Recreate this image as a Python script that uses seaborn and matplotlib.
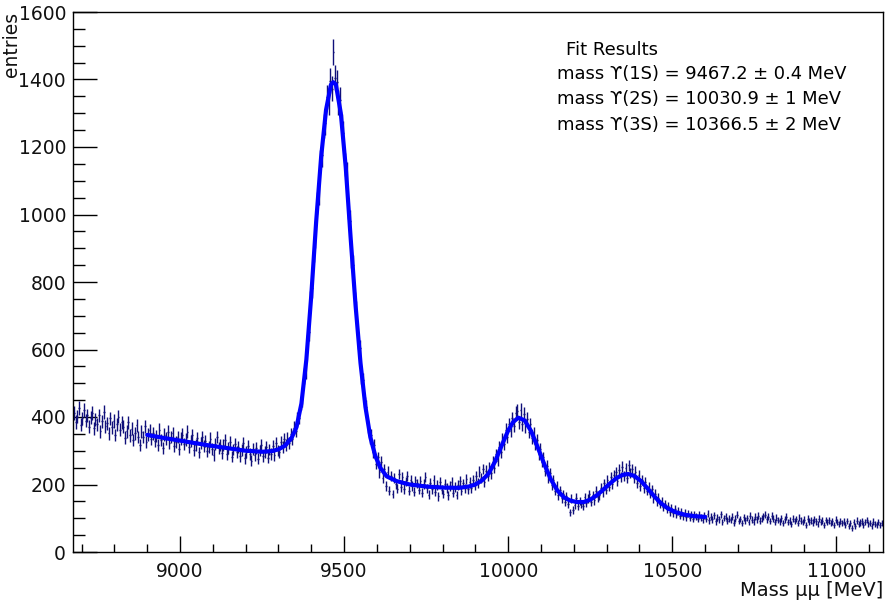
import numpy as np
import pandas as pd
import matplotlib
matplotlib.use("Agg")
import matplotlib.pyplot as plt
import seaborn as sns
from matplotlib.ticker import MultipleLocator

# ---------------- data ----------------
bin_width = 5
bin_start = 8677.5  # centre of first bin (MeV); one row = 50 MeV
counts = [
    412, 385, 401, 428, 377, 396, 420, 389, 405, 371,
    398, 411, 366, 392, 379, 405, 358, 387, 414, 372,
    381, 352, 396, 369, 388, 347, 378, 401, 362, 384,
    371, 339, 358, 384, 346, 365, 331, 352, 376, 341,
    318, 356, 340, 372, 327, 349, 361, 334, 352, 329,
    344, 318, 362, 331, 309, 348, 336, 357, 322, 340,
    352, 314, 327, 341, 305, 336, 348, 319, 333, 357,
    311, 329, 346, 302, 318, 337, 295, 323, 340, 314,
    329, 298, 312, 336, 305, 287, 321, 340, 309, 316,
    294, 318, 331, 289, 309, 326, 282, 304, 319, 297,
    312, 285, 303, 322, 278, 296, 314, 290, 271, 305,
    288, 309, 276, 301, 318, 283, 297, 312, 280, 304,
    291, 315, 288, 322, 301, 296, 327, 310, 334, 318,
    338, 324, 349, 336, 368, 359, 394, 398, 441, 452,
    521, 536, 618, 652, 747, 781, 889, 931, 1034, 1062,
    1158, 1176, 1262, 1271, 1348, 1332, 1396, 1372, 1482, 1405,
    1392, 1331, 1340, 1262, 1241, 1149, 1122, 1018, 982, 871,
    851, 742, 718, 627, 603, 521, 509, 438, 429, 371,
    338, 347, 296, 318, 262, 281, 236, 268, 219, 245,
    196, 238, 181, 226, 172, 219, 201, 188, 230, 193,
    221, 187, 209, 226, 182, 214, 196, 178, 212, 203,
    184, 210, 176, 201, 222, 189, 170, 205, 186, 214,
    179, 198, 165, 207, 184, 172, 201, 190, 168, 196,
    207, 176, 193, 169, 198, 211, 182, 203, 189, 215,
    186, 208, 190, 213, 197, 224, 205, 238, 219, 246,
    208, 241, 226, 252, 233, 268, 249, 289, 271, 312,
    296, 334, 321, 362, 341, 378, 359, 396, 374, 411,
    418, 384, 421, 379, 408, 372, 395, 356, 379, 338,
    352, 321, 331, 289, 305, 268, 281, 241, 256, 219,
    234, 198, 214, 181, 196, 168, 183, 159, 171, 148,
    166, 143, 118, 158, 124, 139, 161, 135, 152, 141,
    137, 162, 144, 158, 171, 147, 169, 153, 181, 162,
    168, 191, 177, 203, 185, 213, 194, 221, 202, 229,
    236, 209, 244, 221, 253, 226, 248, 218, 257, 235,
    246, 219, 238, 205, 227, 196, 214, 189, 207, 181,
    194, 172, 186, 159, 173, 150, 161, 141, 152, 134,
    142, 126, 137, 119, 131, 115, 127, 110, 122, 108,
    119, 106, 117, 103, 114, 101, 112, 99, 110, 104,
    98, 111, 102, 95, 108, 99, 113, 94, 104, 97,
    109, 91, 103, 97, 112, 88, 101, 106, 93, 99,
    95, 104, 87, 99, 110, 92, 98, 86, 103, 94,
    101, 89, 107, 96, 90, 104, 97, 108, 93, 100,
    106, 111, 97, 104, 92, 108, 99, 89, 102, 95,
    91, 100, 86, 97, 105, 89, 94, 83, 99, 92,
    98, 85, 102, 93, 88, 96, 81, 99, 90, 94,
    87, 97, 91, 84, 99, 88, 93, 80, 95, 89,
    94, 85, 91, 79, 96, 88, 83, 92, 86, 90,
    81, 92, 76, 85, 72, 89, 78, 93, 84, 87,
    91, 80, 88, 95, 82, 86, 77, 90, 84, 79,
    88, 81, 85,
]

fit_mass = [8900, 8950, 9000, 9050, 9100, 9150, 9200, 9250, 9280, 9300,
            9320, 9340, 9355, 9370, 9385, 9400, 9415, 9430, 9445, 9460,
            9467, 9475, 9490, 9505, 9520, 9535, 9550, 9565, 9580, 9595,
            9610, 9630, 9660, 9700, 9750, 9800, 9850, 9880, 9900, 9920,
            9940, 9960, 9980, 10000, 10015, 10031, 10050, 10070, 10090, 10110,
            10130, 10150, 10170, 10190, 10210, 10230, 10250, 10270, 10290, 10310,
            10330, 10350, 10366, 10385, 10405, 10425, 10445, 10465, 10485, 10510,
            10540, 10570, 10600]
fit_value = [347, 338, 330, 322, 314, 307, 300, 297, 299, 304,
             315, 338, 370, 440, 570, 760, 980, 1170, 1310, 1385,
             1392, 1385, 1300, 1140, 930, 730, 560, 430, 340, 285,
             250, 224, 210, 200, 194, 191, 190, 194, 200, 212,
             232, 268, 315, 360, 385, 398, 390, 358, 310, 260,
             215, 182, 162, 152, 148, 148, 155, 168, 185, 203,
             219, 229, 231, 225, 210, 188, 165, 145, 130, 118,
             110, 106, 104]

legend_title = "Fit Results"
legend_lines = [
    "mass \u03d2(1S) = 9467.2 \u00b1 0.4 MeV",
    "mass \u03d2(2S) = 10030.9 \u00b1 1 MeV",
    "mass \u03d2(3S) = 10366.5 \u00b1 2 MeV",
]
x_label = "Mass \u03bc\u03bc [MeV]"
y_label = "entries"

# ---------------- frames ----------------
centers = bin_start + bin_width * np.arange(len(counts))
hist = pd.DataFrame({"mass": centers, "entries": counts})
hist["err"] = np.sqrt(hist["entries"])
fit = pd.DataFrame({"mass": fit_mass, "entries": fit_value})

# ---------------- style ----------------
sns.set_theme(style="ticks")
plt.rcParams["font.family"] = ["DejaVu Sans"]

fig = plt.figure(figsize=(8.88, 6.05), dpi=100)
ax = fig.add_axes([73 / 888, 53 / 605, 810 / 888, 540 / 605])

ax.errorbar(hist["mass"], hist["entries"], yerr=hist["err"], xerr=bin_width / 2,
            fmt="none", ecolor="#10107a", elinewidth=1.0, zorder=2)
sns.lineplot(data=fit, x="mass", y="entries", color="#0000ff", lw=3,
             ax=ax, zorder=3, sort=False)

ax.set_xlim(8674, 11142)
ax.set_ylim(0, 1600)
ax.xaxis.set_major_locator(MultipleLocator(500))
ax.xaxis.set_minor_locator(MultipleLocator(100))
ax.yaxis.set_major_locator(MultipleLocator(200))
ax.yaxis.set_minor_locator(MultipleLocator(50))

ax.tick_params(axis="both", which="both", direction="in", color="black",
               width=1, labelsize=13.5, labelcolor="#111111")
ax.tick_params(axis="y", which="major", length=17.3, pad=5)
ax.tick_params(axis="y", which="minor", length=8.7)
ax.tick_params(axis="x", which="major", length=11.5, pad=7)
ax.tick_params(axis="x", which="minor", length=5.8)
for s in ax.spines.values():
    s.set_color("black")
    s.set_linewidth(1)

ax.set_xlabel("")
ax.set_ylabel("")
fig.text(883 / 888, 1 - 596 / 605, x_label, ha="right", va="baseline",
         fontsize=14, color="#111111")
fig.text(11 / 888, 1 - 12 / 605, y_label, ha="center", va="top",
         rotation=90, fontsize=13.5, color="#111111")

ax.text(566 / 888, 1 - 50 / 605, legend_title, transform=fig.transFigure,
        ha="left", va="center", fontsize=13, color="black")
for i, line in enumerate(legend_lines):
    ax.text(557 / 888, 1 - (74 + 25.3 * i) / 605, line, transform=fig.transFigure,
            ha="left", va="center", fontsize=12.9, color="black")

fig.savefig("out.png", dpi=100)
